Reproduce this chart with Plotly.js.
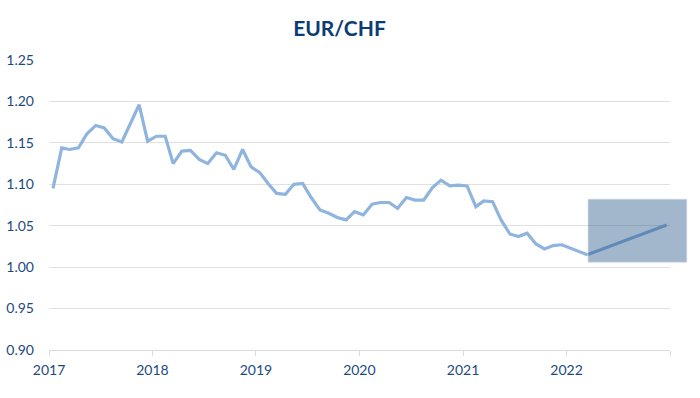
<!DOCTYPE html>
<html>
<head>
<meta charset="utf-8">
<script src="https://cdn.plot.ly/plotly-3.0.1.min.js"></script>
<style>html,body{margin:0;padding:0;background:#fff;}#chart{width:700px;height:398px;}</style>
</head>
<body>
<div id="chart"></div>
<script>
// Monthly EUR/CHF (mid-month), Jan 2017 - Mar 2022
const startYear = 2017, startMonth = 1;
const rateValues = [
  1.095, 1.144, 1.142, 1.144, 1.161, 1.171, 1.168, 1.155, 1.151, 1.174, 1.196, 1.152,
  1.158, 1.158, 1.125, 1.140, 1.141, 1.130, 1.125, 1.138, 1.135, 1.118, 1.142, 1.121,
  1.114, 1.100, 1.089, 1.088, 1.100, 1.101, 1.084, 1.069, 1.065, 1.060, 1.057, 1.067,
  1.063, 1.076, 1.078, 1.078, 1.071, 1.084, 1.081, 1.081, 1.096, 1.105, 1.098, 1.099,
  1.098, 1.073, 1.080, 1.079, 1.057, 1.040, 1.037, 1.041, 1.028, 1.022, 1.026, 1.027,
  1.023, 1.019, 1.015
];
const forecastDates = ['2022-03-15', '2022-12-20'];
const forecastValues = [1.015, 1.051];
const bandDates = ['2022-03-18', '2023-03-01'];
const bandValues = [1.006, 1.082];
const xTickVals = ['2017-01-01','2018-01-01','2019-01-01','2020-01-01','2021-01-01','2022-01-01','2023-01-01'];
const xTickText = ['2017','2018','2019','2020','2021','2022',''];
const xRange = ['2017-01-01', '2023-01-01'];
const yRange = [0.9, 1.25];

const rateDates = rateValues.map((v, i) => {
  const m = startMonth - 1 + i;
  const y = startYear + Math.floor(m / 12);
  const mm = String((m % 12) + 1).padStart(2, '0');
  return y + '-' + mm + '-15';
});

const ms = d => new Date(d + 'T00:00:00Z').getTime();
const px = d => (ms(d) - ms(xRange[0])) / (ms(xRange[1]) - ms(xRange[0]));
const py = v => (v - yRange[0]) / (yRange[1] - yRange[0]);

const lineColor = '#8fb5df';
const navy = '#1c4a80';

const data = [
  {x: rateDates, y: rateValues, type: 'scatter', mode: 'lines',
   line: {color: lineColor, width: 3.2}, hoverinfo: 'skip'},
  {x: forecastDates, y: forecastValues, type: 'scatter', mode: 'lines',
   line: {color: lineColor, width: 3.2}, hoverinfo: 'skip'}
];

const layout = {
  width: 700, height: 398,
  margin: {l: 48.7, r: 29.7, t: 60, b: 48},
  paper_bgcolor: '#ffffff', plot_bgcolor: '#ffffff',
  showlegend: false,
  font: {family: 'Lato, "Open Sans", sans-serif', color: navy, size: 14},
  title: {text: 'EUR/CHF', x: 0.485, xanchor: 'center', y: 0.928, yanchor: 'middle',
          font: {family: 'Lato, "Open Sans", sans-serif', size: 21, color: '#0c3c75', weight: 'bold'}},
  xaxis: {
    type: 'date', range: xRange,
    tickmode: 'array', tickvals: xTickVals, ticktext: xTickText,
    showgrid: false, zeroline: false,
    showline: true, linecolor: '#dcdcdc', linewidth: 1,
    ticks: 'outside', ticklen: 5, tickcolor: '#dcdcdc', tickwidth: 1,
    ticklabelstandoff: 2,
    tickfont: {size: 14, color: navy}
  },
  yaxis: {
    range: yRange, dtick: 0.05, tick0: 0.9, tickformat: '.2f',
    showgrid: true, gridcolor: '#e0e0e0', gridwidth: 1,
    zeroline: false, showline: false, ticks: '',
    ticklabelstandoff: 14,
    tickfont: {size: 14, color: navy}
  },
  shapes: [{
    type: 'rect', xref: 'paper', yref: 'paper', layer: 'above',
    x0: px(bandDates[0]), x1: px(bandDates[1]),
    y0: py(bandValues[0]), y1: py(bandValues[1]),
    fillcolor: 'rgba(30,78,130,0.41)',
    line: {color: 'rgba(200,215,230,0.6)', width: 1}
  }]
};

Plotly.newPlot('chart', data, layout, {staticPlot: true, displayModeBar: false});
</script>
</body>
</html>
